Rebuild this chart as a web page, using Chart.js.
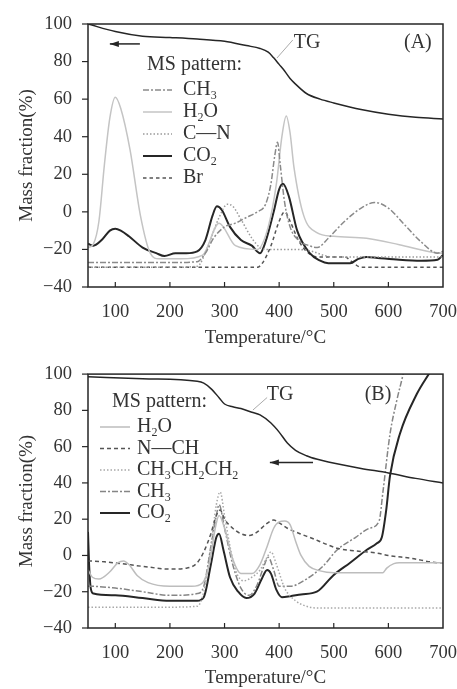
<!DOCTYPE html>
<html>
<head>
<meta charset="utf-8">
<script src="https://cdn.jsdelivr.net/npm/chart.js@4/dist/chart.umd.min.js"></script>
<style>
    html, body { margin: 0; padding: 0; background: #fff; }
    .painel { position: absolute; left: 0; width: 457px; }
    #painelA { top: 0; height: 355px; }
    #painelB { top: 355px; height: 334px; }
</style>
</head>
<body>
<div id="painelA" class="painel"><canvas id="chartA" width="457" height="355"></canvas></div>
<div id="painelB" class="painel"><canvas id="chartB" width="457" height="334"></canvas></div>
<script>
// 1. DATA
const tempTicks = [100, 200, 300, 400, 500, 600, 700];
const massTicks = [100, 80, 60, 40, 20, 0, -20, -40];

// Panel (A)
const aTgT = [50, 100, 150, 200, 250, 300, 340, 365, 380, 390, 400, 410, 420, 430, 450, 475, 500, 550, 600, 650, 700];
const aTgM = [100, 96, 93.5, 92.8, 92, 90.8, 88.5, 87, 85, 82, 78.5, 75, 71, 68, 63, 60, 58, 54.5, 52, 50.3, 49.4];

const aCh3T = [50, 100, 150, 200, 250, 265, 280, 300, 320, 340, 360, 375, 385, 392, 397, 402, 410, 420, 435, 455, 470, 490, 520, 550, 575, 600, 630, 660, 690, 700];
const aCh3M = [-27, -27, -27, -27, -26.5, -22, -14, -8, -6, -3, 0, 4, 15, 30, 37, 25, 5, -8, -15, -18, -19, -14, -5, 2, 5, 2, -7, -16, -22, -21];

const aH2oT = [50, 60, 70, 80, 90, 100, 110, 127, 146, 164, 180, 220, 260, 290, 320, 360, 380, 395, 405, 413, 420, 427, 445, 469, 500, 560, 620, 680, 700];
const aH2oM = [-19, -17, -5, 25, 50, 61, 55, 33, -2, -22, -25, -25, -23, -6, -18, -20, -8, 15, 40, 51, 42, 24, -2, -11, -13, -14, -17.5, -21.5, -22];

const aCnT = [50, 100, 150, 200, 250, 270, 290, 305, 315, 330, 350, 365, 380, 400, 430, 460, 480, 500, 550, 600, 650, 700];
const aCnM = [-29.5, -29.5, -29.5, -29.5, -29, -18, -3, 4, 3, -4, -14, -19, -20, -20, -20, -21, -23, -24, -24, -24, -24, -24];

const aCo2T = [50, 60, 75, 90, 100, 110, 125, 150, 175, 190, 210, 230, 250, 265, 278, 286, 295, 310, 330, 350, 365, 375, 390, 400, 407, 418, 433, 456, 475, 490, 530, 545, 560, 580, 620, 660, 690, 700];
const aCo2M = [-17, -18, -15, -10, -9, -10, -13, -19, -22, -23.5, -22, -22, -21, -15, -2, 3, 1, -8, -15, -18, -22, -16, 0, 12, 15, 8, -10, -22, -26, -27.3, -27.3, -25, -24, -24.5, -25.5, -26, -25.5, -23];

const aBrT = [50, 100, 200, 300, 360, 370, 385, 400, 410, 420, 435, 450, 470, 490, 520, 535, 550, 600, 700];
const aBrM = [-29.5, -29.5, -29.5, -29.5, -29.5, -27, -18, -5, 0, -5, -15, -21, -24, -24, -24, -27, -29.5, -29.5, -29.5];

// Panel (B)
const bTgT = [50, 150, 250, 262, 275, 290, 300, 315, 330, 350, 365, 385, 400, 415, 430, 450, 470, 490, 550, 600, 650, 700];
const bTgM = [98.5, 97.5, 96, 95, 92, 87, 83.5, 82, 81, 79, 77.5, 73, 68, 62, 58, 55, 53, 51.5, 48, 45.5, 42.5, 40];

const bH2oT = [50, 58, 70, 90, 105, 115, 125, 140, 160, 200, 240, 260, 272, 283, 290, 300, 315, 330, 350, 365, 378, 390, 400, 410, 420, 430, 440, 455, 475, 500, 550, 590, 597, 610, 620, 700];
const bH2oM = [-8, -12, -13, -9, -4, -3, -5, -11, -15, -17, -17, -15, -5, 15, 22, 15, -2, -10, -10, -5, 5, 15, 18.5, 19, 17, 8, 0, -6, -8.5, -9.5, -9.5, -9.5, -7, -4.5, -4, -4];

const bNchT = [50, 80, 110, 150, 200, 230, 250, 262, 275, 285, 292, 300, 315, 330, 345, 360, 375, 390, 400, 415, 438, 460, 480, 506, 540, 579, 600, 640, 694, 700];
const bNchM = [-3, -3.5, -4.5, -6, -7.5, -7, -4, 2, 12, 22, 25, 20, 15, 12, 11, 13, 17, 19.5, 18, 15, 12, 9.5, 7, 4, 2.5, 1.3, 0, -1.5, -4, -4];

const bC3T = [50, 100, 150, 200, 250, 262, 275, 285, 292, 300, 310, 320, 335, 350, 365, 378, 385, 395, 410, 430, 450, 470, 500, 600, 700];
const bC3M = [-28.5, -28.5, -28.5, -28.5, -28, -20, 5, 28, 35, 22, 5, -8, -14, -12, -8, -1, 2, -5, -18, -25, -28, -29, -29, -29, -29];

const bCh3T = [50, 55, 100, 150, 200, 250, 262, 275, 285, 290, 300, 315, 330, 345, 360, 372, 380, 390, 400, 420, 450, 480, 506, 540, 565, 583, 590, 603, 615, 627, 635];
const bCh3M = [-17, -17, -18, -20, -22, -21, -17, 5, 22, 28, 15, -5, -18, -22, -16, -6, -1, -8, -17, -17, -13, -6, 3, 10, 15, 19, 35, 67, 85, 100, 112];

const bCo2T = [50, 52, 55, 60, 100, 150, 200, 250, 262, 275, 285, 290, 298, 310, 325, 340, 355, 368, 378, 385, 395, 405, 420, 440, 469, 499, 530, 560, 579, 588, 596, 603, 621, 652, 676, 690];
const bCo2M = [13, -5, -18, -21, -22, -23.5, -25, -25, -23, -5, 10, 12, 3, -12, -20, -23.5, -21, -13, -8, -10, -19, -23, -22.5, -21.5, -20, -11, -4, 3, 6.7, 10, 25, 44, 67, 89, 101, 108];

// 2. STYLES
const FONTE = "'Liberation Serif', 'Times New Roman', serif";
const ESCURO = '#262626';

const seriesA = [
    { nome: 'TG', t: aTgT, m: aTgM, cor: ESCURO, largura: 1.5, traco: [] },
    { nome: 'CH3', t: aCh3T, m: aCh3M, cor: '#8a8a8a', largura: 1.5, traco: [6, 2, 2, 2], legenda: true },
    { nome: 'H2O', t: aH2oT, m: aH2oM, cor: '#c4c4c4', largura: 1.5, traco: [], legenda: true },
    { nome: 'C\u2014N', t: aCnT, m: aCnM, cor: '#9a9a9a', largura: 1.5, traco: [1.5, 2], legenda: true },
    { nome: 'CO2', t: aCo2T, m: aCo2M, cor: ESCURO, largura: 2, traco: [], legenda: true },
    { nome: 'Br', t: aBrT, m: aBrM, cor: '#555', largura: 1.5, traco: [3.5, 3], legenda: true }
];

const seriesB = [
    { nome: 'TG', t: bTgT, m: bTgM, cor: ESCURO, largura: 1.5, traco: [] },
    { nome: 'H2O', t: bH2oT, m: bH2oM, cor: '#bdbdbd', largura: 1.5, traco: [], legenda: true },
    { nome: 'N\u2014CH', t: bNchT, m: bNchM, cor: '#555', largura: 1.5, traco: [4, 3], legenda: true },
    { nome: 'CH3CH2CH2', t: bC3T, m: bC3M, cor: '#a8a8a8', largura: 1.5, traco: [1.5, 2], legenda: true },
    { nome: 'CH3', t: bCh3T, m: bCh3M, cor: '#858585', largura: 1.5, traco: [6, 2, 2, 2], legenda: true },
    { nome: 'CO2', t: bCo2T, m: bCo2M, cor: ESCURO, largura: 2, traco: [], legenda: true }
];

// 3. HELPERS
function escreverFormula(ctx, texto, x, y, tam) {
    // digits become subscripts
    for (const ch of texto) {
        const sub = ch >= '0' && ch <= '9';
        ctx.font = (sub ? Math.round(tam * 0.62) : tam) + 'px ' + FONTE;
        ctx.fillText(ch, x, sub ? y + tam * 0.3 : y);
        x += ctx.measureText(ch).width;
    }
}

function seta(ctx, x1, y1, x2, y2) {
    ctx.beginPath(); ctx.moveTo(x1, y1); ctx.lineTo(x2, y2); ctx.stroke();
    const ang = Math.atan2(y2 - y1, x2 - x1);
    ctx.beginPath();
    ctx.moveTo(x2, y2);
    ctx.lineTo(x2 - 9 * Math.cos(ang) + 3 * Math.sin(ang), y2 - 9 * Math.sin(ang) - 3 * Math.cos(ang));
    ctx.lineTo(x2 - 9 * Math.cos(ang) - 3 * Math.sin(ang), y2 - 9 * Math.sin(ang) + 3 * Math.cos(ang));
    ctx.closePath(); ctx.fill();
}

function pluginDecor(series, cfg) {
    return {
        id: 'decor',
        afterDraw(chart) {
            const ctx = chart.ctx, a = chart.chartArea;
            const sx = chart.scales.x, sy = chart.scales.y;
            const px = v => sx.getPixelForValue(v), py = v => sy.getPixelForValue(v);
            ctx.save();
            ctx.setLineDash([]);
            ctx.strokeStyle = ESCURO; ctx.fillStyle = ESCURO;

            // frame + ticks
            ctx.lineWidth = 1.5;
            ctx.strokeRect(a.left, a.top, a.right - a.left, a.bottom - a.top);
            ctx.lineWidth = 1.2;
            tempTicks.forEach(v => {
                if (v >= 700) return;
                ctx.beginPath(); ctx.moveTo(px(v), a.bottom); ctx.lineTo(px(v), a.bottom - 5); ctx.stroke();
            });
            massTicks.forEach(v => {
                ctx.beginPath(); ctx.moveTo(a.left - 6, py(v)); ctx.lineTo(a.left, py(v)); ctx.stroke();
            });

            // arrow pointing to TG axis
            ctx.lineWidth = 1.5;
            seta(ctx, px(cfg.seta[0]), py(cfg.seta[2]), px(cfg.seta[1]), py(cfg.seta[2]));

            // TG leader + labels
            ctx.strokeStyle = '#aaa'; ctx.lineWidth = 1;
            ctx.beginPath();
            ctx.moveTo(px(cfg.guia[0]), py(cfg.guia[1]));
            ctx.lineTo(px(cfg.guia[2]), py(cfg.guia[3]));
            ctx.stroke();
            ctx.fillStyle = '#333';
            ctx.font = '20px ' + FONTE;
            ctx.textBaseline = 'middle'; ctx.textAlign = 'center';
            ctx.fillText('TG', px(cfg.tg[0]), py(cfg.tg[1]));
            ctx.fillText(cfg.rotulo, px(cfg.painel[0]), py(cfg.painel[1]));

            // legend
            const L = cfg.legenda;
            ctx.textAlign = 'left';
            ctx.font = '20px ' + FONTE;
            ctx.fillText('MS pattern:', L.xTitulo, L.yTitulo);
            series.filter(s => s.legenda).forEach((s, i) => {
                const y = L.y0 + i * L.dy;
                ctx.strokeStyle = s.cor; ctx.lineWidth = s.largura;
                ctx.setLineDash(s.traco);
                ctx.beginPath(); ctx.moveTo(L.x0, y); ctx.lineTo(L.x1, y); ctx.stroke();
                ctx.setLineDash([]);
                ctx.fillStyle = '#333';
                escreverFormula(ctx, s.nome, L.xTexto, y, 20);
            });
            ctx.restore();
        }
    };
}

// 4. CHARTS
function montarGrafico(id, series, cfg) {
    const fonteTick = { family: FONTE, size: 18.5 };
    new Chart(document.getElementById(id), {
        type: 'line',
        data: {
            datasets: series.map(s => ({
                label: s.nome,
                data: s.t.map((t, i) => ({ x: t, y: s.m[i] })),
                borderColor: s.cor,
                borderWidth: s.largura,
                borderDash: s.traco,
                pointRadius: 0,
                fill: false,
                cubicInterpolationMode: 'monotone'
            }))
        },
        options: {
            responsive: false,
            animation: false,
            layout: { padding: { top: cfg.topo, right: 0, left: 0, bottom: 0 } },
            plugins: { legend: { display: false }, tooltip: { enabled: false } },
            scales: {
                x: {
                    type: 'linear', min: 50, max: 700,
                    afterBuildTicks: s => { s.ticks = tempTicks.map(v => ({ value: v })); },
                    afterFit: s => { s.height = cfg.alturaX; s.paddingRight = 14; },
                    grid: { display: false }, border: { display: false },
                    ticks: { font: fonteTick, color: '#333', padding: 6, maxRotation: 0 },
                    title: { display: true, text: 'Temperature/°C', color: '#333', font: { family: FONTE, size: 19 },
                             padding: { top: 0, bottom: cfg.padTitulo } }
                },
                y: {
                    min: -40, max: 100,
                    afterBuildTicks: s => { s.ticks = massTicks.map(v => ({ value: v })); },
                    afterFit: s => { s.width = 88; },
                    grid: { display: false }, border: { display: false },
                    ticks: { font: fonteTick, color: '#333', padding: 8,
                             callback: v => String(v).replace('-', '\u2212') },
                    title: { display: true, text: 'Mass fraction(%)', color: '#333', font: { family: FONTE, size: 19 },
                             padding: { top: 16, bottom: 0 } }
                }
            }
        },
        plugins: [pluginDecor(series, cfg)]
    });
}

montarGrafico('chartA', seriesA, {
    topo: 24, alturaX: 68, padTitulo: 6, rotulo: '(A)',
    seta: [145, 90, 89.4], guia: [396, 81.9, 425, 91.5], tg: [451, 89.9], painel: [654, 89.9],
    legenda: { xTitulo: 147, yTitulo: 65, x0: 143, x1: 172, xTexto: 183, y0: 90, dy: 22 }
});

montarGrafico('chartB', seriesB, {
    topo: 12, alturaX: 61, padTitulo: 0, rotulo: '(B)',
    seta: [462, 383, 51.2], guia: [352, 80.2, 378, 87.1], tg: [401.6, 88.7], painel: [581, 88.7],
    legenda: { xTitulo: 112, yTitulo: 47, x0: 100, x1: 130, xTexto: 137, y0: 72, dy: 21.5 }
});
</script>
</body>
</html>
